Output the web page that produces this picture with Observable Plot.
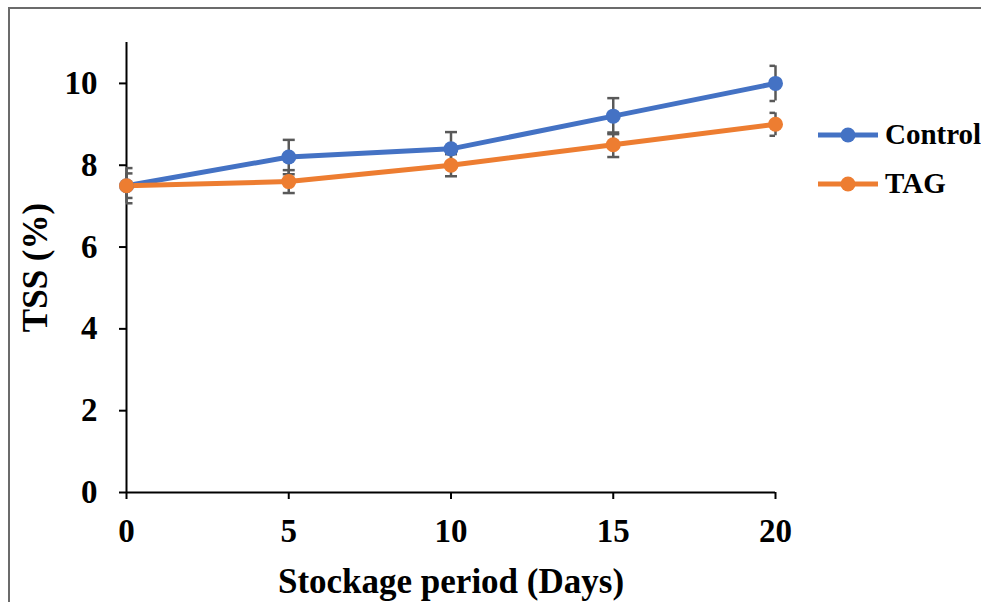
<!DOCTYPE html>
<html>
<head>
<meta charset="utf-8">
<script src="https://cdn.jsdelivr.net/npm/d3@7"></script>
<script src="https://cdn.jsdelivr.net/npm/@observablehq/plot@0.6"></script>
<style>
  html, body { margin: 0; padding: 0; background: #fff; }
  #wrap { position: relative; width: 981px; height: 602px; overflow: hidden; }
  .bt { position: absolute; left: 8px; top: 7px; width: 973px; height: 2px; background: #6b6b6b; }
  .bl { position: absolute; left: 8px; top: 7px; width: 2px; height: 595px; background: #6b6b6b; }
  #legend { position: absolute; left: 818px; top: 110px; font-family: "Liberation Serif", "Times New Roman", serif; font-weight: bold; font-size: 29px; color: #000; }
  .item { display: flex; align-items: center; height: 49px; white-space: nowrap; }
  .item svg { margin-right: 7px; }
</style>
</head>
<body>
<div id="wrap">
  <div id="chart"></div>
  <div class="bt"></div>
  <div class="bl"></div>
  <div id="legend"></div>
</div>
<script>
const days = [0, 5, 10, 15, 20];
const seriesNames = ["Control", "TAG"];
const controlValues = [7.5, 8.2, 8.4, 9.2, 10.0];
const controlErrors = [0.43, 0.42, 0.41, 0.44, 0.43];
const tagValues = [7.5, 7.6, 8.0, 8.5, 9.0];
const tagErrors = [0.30, 0.28, 0.27, 0.30, 0.28];
const colors = ["#4472C4", "#ED7D31"];
const xTicks = [0, 5, 10, 15, 20];
const yTicks = [0, 2, 4, 6, 8, 10];

const data = [];
days.forEach((d, i) => data.push({series: "Control", day: d, value: controlValues[i], err: controlErrors[i]}));
days.forEach((d, i) => data.push({series: "TAG", day: d, value: tagValues[i], err: tagErrors[i]}));

const capSymbol = {
  draw(context) { context.moveTo(-6, 0); context.lineTo(6, 0); }
};
const errColor = "#595959";
const font = "'Liberation Serif', 'Times New Roman', serif";

const chart = Plot.plot({
  width: 981,
  height: 602,
  marginLeft: 126,
  marginRight: 206,
  marginTop: 42,
  marginBottom: 110,
  style: {fontFamily: font, fontWeight: "bold", fontSize: "33px", color: "#000", background: "transparent"},
  x: {domain: [0, 20]},
  y: {domain: [0, 11]},
  color: {domain: seriesNames, range: colors},
  marks: [
    Plot.axisX({ticks: xTicks, tickSize: 7, tickPadding: 19, tickFormat: d => String(d), strokeWidth: 2, label: null}),
    Plot.axisX({ticks: [], label: "Stockage period (Days)", labelAnchor: "center", labelArrow: "none", labelOffset: 100, fontSize: 35}),
    Plot.axisY({ticks: yTicks, tickSize: 7, tickPadding: 22, tickFormat: d => String(d), strokeWidth: 2, label: null}),
    Plot.axisY({ticks: [], label: "TSS (%)", labelAnchor: "center", labelArrow: "none", labelOffset: 104, fontSize: 35}),
    Plot.ruleY([0], {stroke: "#000", strokeWidth: 2}),
    Plot.ruleX([0], {stroke: "#000", strokeWidth: 2}),
    Plot.ruleX(data, {x: "day", y1: d => d.value - d.err, y2: d => d.value + d.err, stroke: errColor, strokeWidth: 2.5}),
    Plot.dot(data, {x: "day", y: d => d.value + d.err, symbol: capSymbol, stroke: errColor, strokeWidth: 2.5, fill: "none", clip: true}),
    Plot.dot(data, {x: "day", y: d => d.value - d.err, symbol: capSymbol, stroke: errColor, strokeWidth: 2.5, fill: "none", clip: true}),
    Plot.line(data, {x: "day", y: "value", z: "series", stroke: "series", strokeWidth: 5}),
    Plot.dot(data, {x: "day", y: "value", fill: "series", r: 7.5})
  ]
});
document.getElementById("chart").appendChild(chart);

const legend = document.getElementById("legend");
seriesNames.forEach((name, i) => {
  const item = document.createElement("div");
  item.className = "item";
  item.innerHTML = `<svg width="60" height="20"><line x1="0" y1="10" x2="60" y2="10" stroke="${colors[i]}" stroke-width="5"/><circle cx="30" cy="10" r="7.5" fill="${colors[i]}"/></svg><span>${name}</span>`;
  legend.appendChild(item);
});
</script>
</body>
</html>
